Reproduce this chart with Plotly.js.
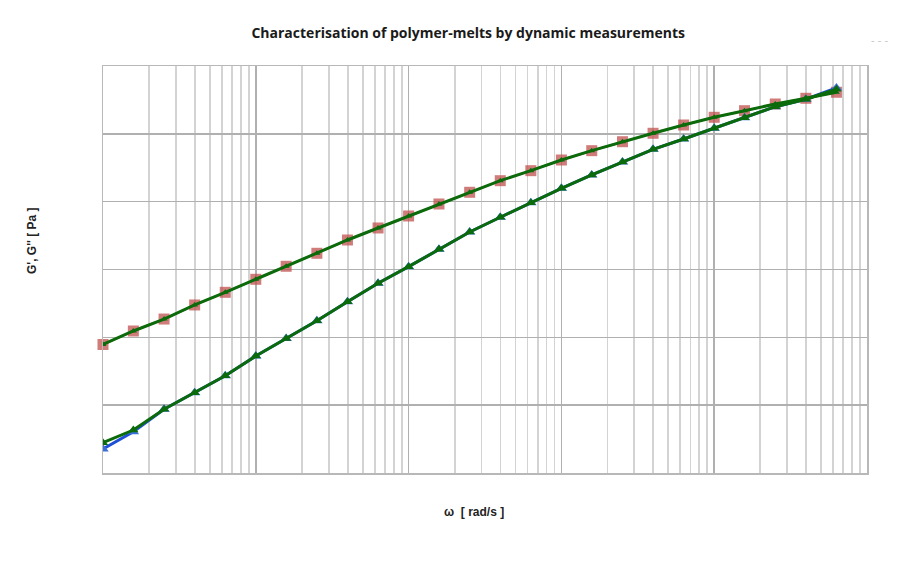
<!DOCTYPE html>
<html>
<head>
<meta charset="utf-8">
<script src="https://cdn.plot.ly/plotly-3.0.1.min.js"></script>
<style>html,body{margin:0;padding:0;background:#fff;}#chart{width:902px;height:584px;}</style>
</head>
<body>
<div id="chart"></div>
<script>
// angular frequency ω [rad/s]
const omega = [0.01, 0.0158, 0.0251, 0.0398, 0.0631, 0.1, 0.158, 0.251, 0.398, 0.631,
  1, 1.58, 2.51, 3.98, 6.31, 10, 15.8, 25.1, 39.8, 63.1, 100, 158, 251, 398, 631];
// measured storage modulus G' [Pa]
const gStorage = [2.26, 4.06, 8.69, 15.3, 27.2, 53.1, 96.2, 176, 335, 626,
  1100, 1986, 3573, 5888, 9661, 15740, 24730, 38460, 59160, 83970,
  120800, 173000, 251300, 323100, 474300];
// measured loss modulus G'' [Pa]
const gLoss = [78.4, 124, 186, 300, 461, 717, 1115, 1734, 2723, 4093,
  6152, 9245, 13750, 20380, 28640, 41140, 56460, 76560, 101900, 135000,
  175400, 219400, 275400, 334300, 410100];
// model fit G' [Pa]
const gStorageFit = [2.80, 4.30, 8.69, 15.3, 27.2, 53.1, 96.2, 176, 335, 626,
  1100, 1986, 3573, 5888, 9661, 15740, 24730, 38460, 59160, 83970,
  120800, 173000, 251300, 323100, 453600];
// model fit G'' [Pa]
const gLossFit = [78.4, 124, 186, 300, 461, 717, 1115, 1734, 2723, 4093,
  6152, 9245, 13750, 20380, 28640, 41140, 56460, 76560, 101900, 135000,
  175400, 219400, 275400, 334300, 410100];

const titleText = "Characterisation of polymer-melts by dynamic measurements";
const xTitle = "ω  [ rad/s ]";
const yTitle = "G', G'' [ Pa ]";

const traces = [
  {x: omega, y: gLoss, name: "G'' measured", mode: "lines+markers",
   line: {color: "#c0504d", width: 2},
   marker: {symbol: "square", size: 11, color: "rgba(192,80,77,0.75)", line: {width: 0}},
   cliponaxis: false},
  {x: omega, y: gStorage, name: "G' measured", mode: "lines+markers",
   line: {color: "#1f4fd6", width: 3},
   marker: {symbol: "triangle-up", size: 10, color: "#3a6fd8", line: {width: 0}},
   cliponaxis: true},
  {x: omega, y: gLossFit, name: "G'' fit", mode: "lines+markers",
   line: {color: "#0b6b0b", width: 3},
   marker: {symbol: "triangle-up", size: 6, color: "#0b6b0b"},
   cliponaxis: true},
  {x: omega, y: gStorageFit, name: "G' fit", mode: "lines+markers",
   line: {color: "#0b6b0b", width: 3},
   marker: {symbol: "triangle-up", size: 9, color: "#0b6b0b"},
   cliponaxis: true}
];

const layout = {
  width: 902, height: 584,
  margin: {l: 103, r: 35, t: 66, b: 111},
  paper_bgcolor: "#ffffff", plot_bgcolor: "#ffffff",
  showlegend: false,
  font: {family: "Liberation Sans, Arial, sans-serif", color: "#222"},
  title: {text: "<b>" + titleText + "</b>", font: {size: 14, color: "#1a1a1a", family: "Open Sans, sans-serif"},
          xref: "paper", x: 0.478, xanchor: "center", yref: "container", y: 0.943, yanchor: "middle"},
  xaxis: {type: "log", range: [-2, 3], dtick: 1, showticklabels: false, ticks: "",
          showgrid: true, gridcolor: "#b0b0b0", gridwidth: 1.5,
          minor: {dtick: "D1", showgrid: true, gridcolor: "#d3d3d3", gridwidth: 1.8, ticks: ""},
          showline: true, linecolor: "#b8b8b8", linewidth: 1.5, mirror: true, zeroline: false},
  yaxis: {type: "log", range: [0, 6], dtick: 1, showticklabels: false, ticks: "",
          showgrid: true, gridcolor: "#b0b0b0", gridwidth: 1.5,
          showline: true, linecolor: "#b8b8b8", linewidth: 1.5, mirror: true, zeroline: false},
  annotations: [
    {text: "<b>" + xTitle + "</b>", xref: "paper", yref: "paper", x: 0.4856, y: -0.0958,
     xanchor: "center", yanchor: "middle", showarrow: false, font: {size: 12, color: "#222"}},
    {text: "<b>" + yTitle + "</b>", xref: "paper", yref: "paper", x: -0.0929, y: 0.570,
     xanchor: "center", yanchor: "middle", textangle: -90, showarrow: false, font: {size: 12, color: "#222"}},
    {text: "- - -", xref: "paper", yref: "paper", x: 1.003, y: 1.064,
     xanchor: "left", yanchor: "middle", showarrow: false, font: {size: 11, color: "#c8c8c8"}}
  ]
};

Plotly.newPlot("chart", traces, layout, {displayModeBar: false, staticPlot: true});
</script>
</body>
</html>
